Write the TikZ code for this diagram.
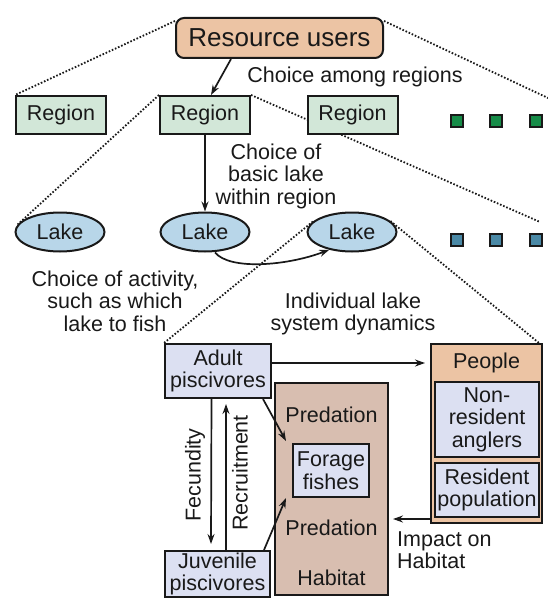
\documentclass[tikz,border=0pt]{standalone}
\usepackage{fontspec}
\setmainfont{Liberation Sans}
\usetikzlibrary{shapes.geometric,arrows.meta,calc,backgrounds}
\definecolor{peach}{RGB}{236,196,164}
\definecolor{regfill}{RGB}{210,231,216}
\definecolor{sqgreen}{RGB}{22,140,72}
\definecolor{lakefill}{RGB}{184,214,233}
\definecolor{sqblue}{RGB}{74,137,166}
\definecolor{lav}{RGB}{220,224,242}
\definecolor{tan}{RGB}{216,190,176}
\definecolor{ink}{RGB}{25,25,25}
\begin{document}
\begin{tikzpicture}[x=1pt,y=-1pt,
  font=\fontsize{21.5}{22.5}\selectfont,
  every node/.style={text=ink},
  bx/.style={draw=ink, line width=2pt, inner sep=1pt, align=center},
  regionbox/.style={bx, fill=regfill, minimum width=90pt, minimum height=38pt},
  lakenode/.style={bx, ellipse, fill=lakefill, minimum width=89pt, minimum height=39pt},
  gsq/.style={draw=ink, line width=1.8pt, fill=sqgreen, minimum size=12pt, inner sep=0pt},
  bsq/.style={draw=ink, line width=1.8pt, fill=sqblue, minimum size=12pt, inner sep=0pt},
  lbl/.style={align=center, inner sep=0pt},
  dots/.style={draw=ink, line width=1.8pt, dash pattern=on 1.6pt off 1.8pt},
  arr/.style={draw=ink, line width=1.7pt, -{Stealth[length=10pt,width=7pt]}}]
\useasboundingbox (0,0) rectangle (548,607);

% top level
\node[bx, fill=peach, rounded corners=8pt, minimum width=207pt, minimum height=40pt,
      font=\fontsize{26}{28}\selectfont] (ru) at (279.5,38) {Resource users};
\node[lbl] (t1) at (355,77) {Choice among regions};

% regions
\node[regionbox] (r1) at (61,115) {Region};
\node[regionbox] (r2) at (205,115) {Region};
\node[regionbox] (r3) at (352.5,115) {Region};
\node[gsq] (g1) at (457,121) {};
\node[gsq] (g2) at (496,121) {};
\node[gsq] (g3) at (536,121) {};
\node[lbl] (t2) at (276,176) {Choice of\\basic lake\\within region};

% lakes
\node[lakenode] (l1) at (60,232) {Lake};
\node[lakenode] (l2) at (205,232) {Lake};
\node[lakenode] (l3) at (352,232) {Lake};
\node[bsq] (b1) at (457,240) {};
\node[bsq] (b2) at (496,240) {};
\node[bsq] (b3) at (536,240) {};
\node[lbl] (t3) at (115,301) {Choice of activity,\\such as which\\lake to fish};
\node[lbl] (t4) at (353,314) {Individual lake\\system dynamics};

% lake system
\node[bx, fill=lav, minimum width=106pt, minimum height=54pt] (adult) at (218,371) {Adult\\piscivores};
\node[bx, fill=tan, minimum width=113pt, minimum height=212pt] (pred) at (331.5,489) {};
\node[lbl] (p1) at (331.5,415) {Predation};
\node[lbl] (p2) at (331.5,528) {Predation};
\node[lbl] (p3) at (331.5,578) {Habitat};
\node[bx, fill=lav, minimum width=76pt, minimum height=53pt] (forage) at (331,470.5) {Forage\\fishes};
\node[bx, fill=peach, minimum width=111pt, minimum height=179pt] (people) at (486.5,433.5) {};
\node[lbl] (pt) at (486.5,363) {People};
\node[bx, fill=lav, minimum width=104pt, minimum height=75pt] (nonres) at (487,419.5) {Non-\\resident\\anglers};
\node[bx, fill=lav, minimum width=104pt, minimum height=54pt] (res) at (487,490) {Resident\\population};
\node[bx, fill=lav, minimum width=105pt, minimum height=46pt] (juv) at (217.5,574) {Juvenile\\piscivores};
\node[lbl, rotate=90] (fec) at (195,475) {Fecundity};
\node[lbl, rotate=90] (rec) at (240,473) {Recruitment};
\node[lbl, align=left, anchor=west] (imp) at (397,550) {Impact on\\Habitat};

% free ends
\coordinate (e1) at (548,98);
\coordinate (e2) at (540,222);

% dotted zoom lines (behind)
\begin{scope}[on background layer]
\draw[dots] ([yshift=-4pt]ru.north west) -- (r1.north west);
\draw[dots] ([yshift=-4pt]ru.north east) -- (e1);
\draw[dots] (r2.north west) -- (l1.170);
\draw[dots] (r2.north east) -- (e2);
\draw[dots] (l3.165) -- (adult.north west);
\draw[dots] (l3.16) -- ([xshift=-4pt]people.north east);
\end{scope}

% arrows
\draw[arr] ([xshift=-48.5pt]ru.south) -- ([xshift=6pt]r2.north);
\draw[arr] (r2.south) -- (l2.north);
\draw[arr] ([xshift=10pt]l2.south) .. controls +(15,18) and +(-42,16) .. (l3.218);
\coordinate (a1) at ([yshift=8pt]adult.east);
\draw[arr] (a1) -- ([xshift=-5pt]a1 -| people.west);
\draw[arr] ([xshift=-6.5pt]adult.south) -- ([xshift=-6.5pt,yshift=6pt]juv.north);
\draw[arr] ([xshift=8.5pt]juv.north) -- ([xshift=8pt,yshift=-5pt]adult.south);
\draw[arr] ([xshift=-9pt]adult.south east) -- ([xshift=-6pt,yshift=2pt]forage.north west);
\draw[arr] ([xshift=-7pt]juv.north east) -- ([xshift=-6pt]forage.south west);
\coordinate (q1) at ([yshift=5pt]people.south west);
\draw[arr] (q1) -- ([xshift=4pt]q1 -| pred.east);
\end{tikzpicture}
\end{document}
